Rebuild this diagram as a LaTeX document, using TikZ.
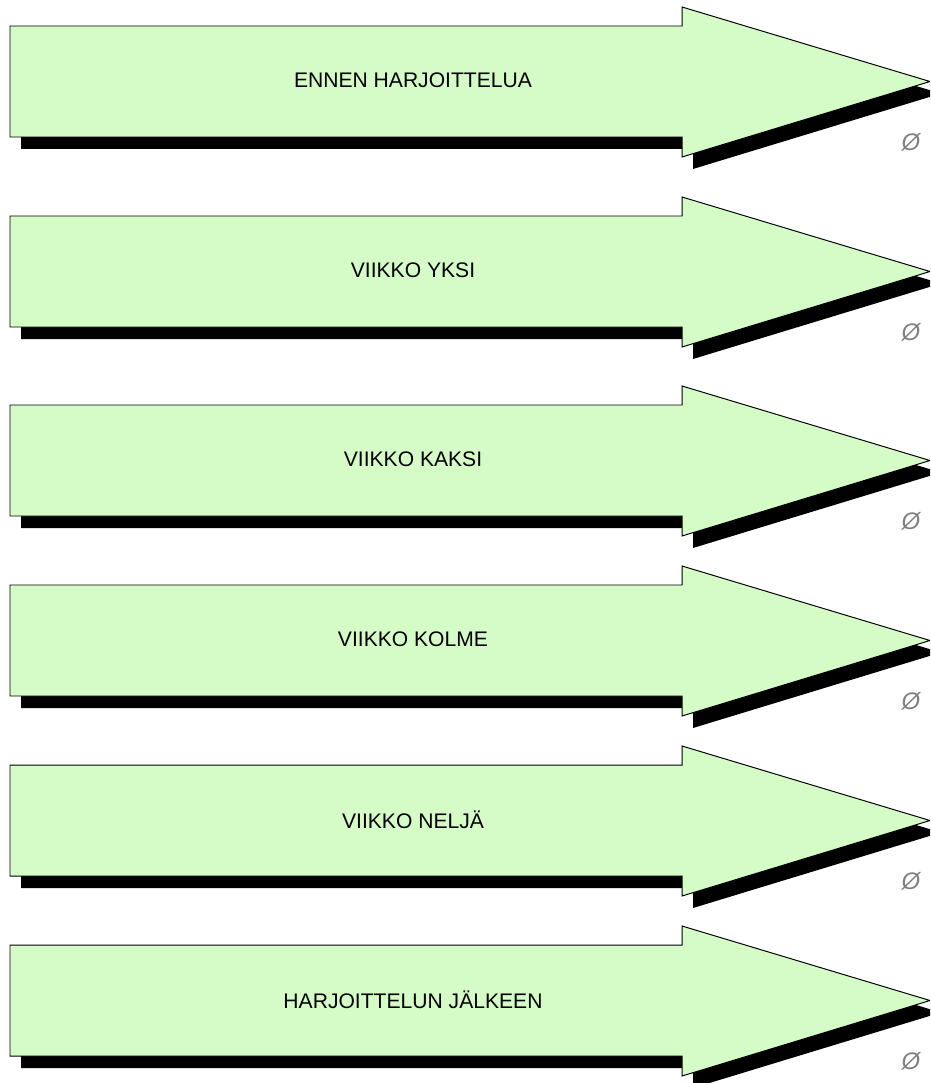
\documentclass[tikz,border=0pt]{standalone}
\usepackage{fontspec}
\setmainfont{Liberation Sans}
\definecolor{pousse}{RGB}{213,252,199}
\tikzset{
Fleche/.style={
 draw=black,
 fill=pousse,
 line width=0.7pt,
 line join=miter
 },
Ombre/.style={
 fill=black,
 draw=none
 },
Etiquette/.style={
 font=\fontsize{15}{18}\selectfont,
 text=black,
 inner sep=0pt
 },
Ancre/.style={
 font=\fontsize{17}{19}\selectfont\itshape,
 text=gray,
 inner sep=0pt
 }
}

\begin{document}
\begin{tikzpicture}[x=0.025cm,y=-0.025cm]
\useasboundingbox (0,0) rectangle (930,1083);
\clip (0,0) rectangle (930,1083);
\foreach \haut/\nom/\texte in {26/avant/ENNEN HARJOITTELUA, 216/un/VIIKKO YKSI, 405/deux/VIIKKO KAKSI, 585/trois/VIIKKO KOLME, 765/quatre/VIIKKO NELJÄ, 945/apres/HARJOITTELUN JÄLKEEN}{
\begin{scope}[shift={(0,\haut)}]
\fill[Ombre] (21,12) -- (693,12) -- (693,-7) -- (941,67.5) -- (693,143) -- (693,123) -- (21,123) -- cycle;
\draw[Fleche] (10,0) -- (682,0) -- (682,-19) -- (930,55.5) -- (682,131) -- (682,111) -- (10,111) -- cycle;
\node[Etiquette] (\nom) at (413,54.5) {\texte};
\node[Ancre] (ancre\nom) at (911,116) {Ø};
\end{scope}
}
\end{tikzpicture}
\end{document}
